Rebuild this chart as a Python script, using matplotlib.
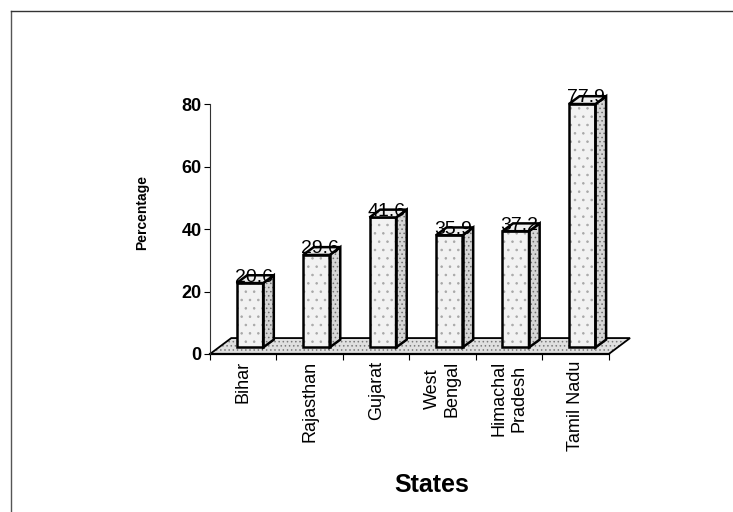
import matplotlib
matplotlib.use('Agg')
from matplotlib import pyplot as plt
from matplotlib.patches import Polygon
from matplotlib.lines import Line2D
import numpy as np

plt.rcParams['font.family'] = ['Liberation Sans', 'DejaVu Sans']
plt.rcParams['hatch.linewidth'] = 0.6

states = ['Bihar', 'Rajasthan', 'Gujarat', 'West\nBengal', 'Himachal\nPradesh', 'Tamil Nadu']
percent = [20.6, 29.6, 41.6, 35.9, 37.2, 77.9]
yticks = [0, 20, 40, 60, 80]

# fake 3d: depth offsets for floor and columns (x in category units, y in %)
floor_dx, floor_dy = 0.32, 5.1
bar_dx, bar_dy = 0.16, 2.5
base = 2.1
bar_w = 0.4

fig = plt.figure(figsize=(7.33, 5.12), dpi=100)
ax = fig.add_axes([210 / 733, 158 / 512, 432 / 733, 265.6 / 512])
ax.set_xlim(-0.5, 6.0)
ax.set_ylim(0, 85)

x = np.arange(len(states))
n = len(states)

# floor
floor = [(-0.5, 0), (n - 0.5, 0), (n - 0.5 + floor_dx, floor_dy), (-0.5 + floor_dx, floor_dy)]
ax.add_patch(Polygon(floor, closed=True, facecolor='#e0e0e0', edgecolor='#7a7a7a',
                     hatch='....', linewidth=0, clip_on=False, zorder=1))
ax.add_patch(Polygon(floor, closed=True, fill=False, edgecolor='black',
                     linewidth=1.3, clip_on=False, zorder=1.5))

# columns
for xi, v in zip(x, percent):
    x0 = xi - 0.1
    x1 = x0 + bar_w
    top = base + v
    ax.bar(x0, v, width=bar_w, bottom=base, align='edge', color='#f2f2f2',
           edgecolor='#a8a8a8', hatch='..', linewidth=0, zorder=3)
    ax.bar(x0, v, width=bar_w, bottom=base, align='edge', fill=False,
           edgecolor='black', linewidth=1.8, zorder=4)
    side = [(x1, base), (x1 + bar_dx, base + bar_dy), (x1 + bar_dx, top + bar_dy), (x1, top)]
    ax.add_patch(Polygon(side, closed=True, facecolor='#d6d6d6', edgecolor='#6e6e6e',
                         hatch='....', linewidth=0, zorder=3))
    ax.add_patch(Polygon(side, closed=True, fill=False, edgecolor='black',
                         linewidth=1.8, zorder=4))
    lid = [(x0, top), (x1, top), (x1 + bar_dx, top + bar_dy), (x0 + bar_dx, top + bar_dy)]
    ax.add_patch(Polygon(lid, closed=True, facecolor='#efefef', edgecolor='black',
                         linewidth=1.8, zorder=4, clip_on=False))
    ax.text(xi + 0.16, top + 0.5, f'{v:.1f}', ha='center', va='baseline',
            fontsize=14, zorder=6, clip_on=False)

# axes
for s in ['top', 'right']:
    ax.spines[s].set_visible(False)
ax.spines['left'].set_position(('data', -0.5))
ax.spines['left'].set_bounds(0, 80)
ax.spines['left'].set_color('#333333')
ax.spines['bottom'].set_bounds(-0.5, n - 0.5)
ax.spines['bottom'].set_linewidth(1.6)
ax.spines['bottom'].set_zorder(2)

ax.set_yticks(yticks)
ax.set_yticklabels([str(t) for t in yticks], fontsize=13, fontweight='bold')
ax.tick_params(axis='y', direction='out', length=4, pad=2)

ax.set_xticks(np.arange(n + 1) - 0.5)
ax.set_xticklabels([])
ax.tick_params(axis='x', which='major', direction='out', length=4)
ax.set_xticks(x, minor=True)
ax.set_xticklabels(states, minor=True, rotation=90, fontsize=13,
                   ha='center', va='top', multialignment='center')
ax.tick_params(axis='x', which='minor', length=0, pad=5)

fig.text(142 / 733, 1 - 212 / 512, 'Percentage', rotation=90, ha='center', va='center',
         fontsize=10, fontweight='bold')
fig.text(432 / 733, 1 - 485 / 512, 'States', ha='center', va='center',
         fontsize=18, fontweight='bold')

# outer frame, cut at the right and bottom edges
fig.add_artist(Line2D([11 / 733, 11 / 733], [-0.01, 1 - 11 / 512], color='#555555', lw=1))
fig.add_artist(Line2D([11 / 733, 1.01], [1 - 11 / 512, 1 - 11 / 512], color='#333333', lw=1))

fig.savefig('out.png', dpi=100)
